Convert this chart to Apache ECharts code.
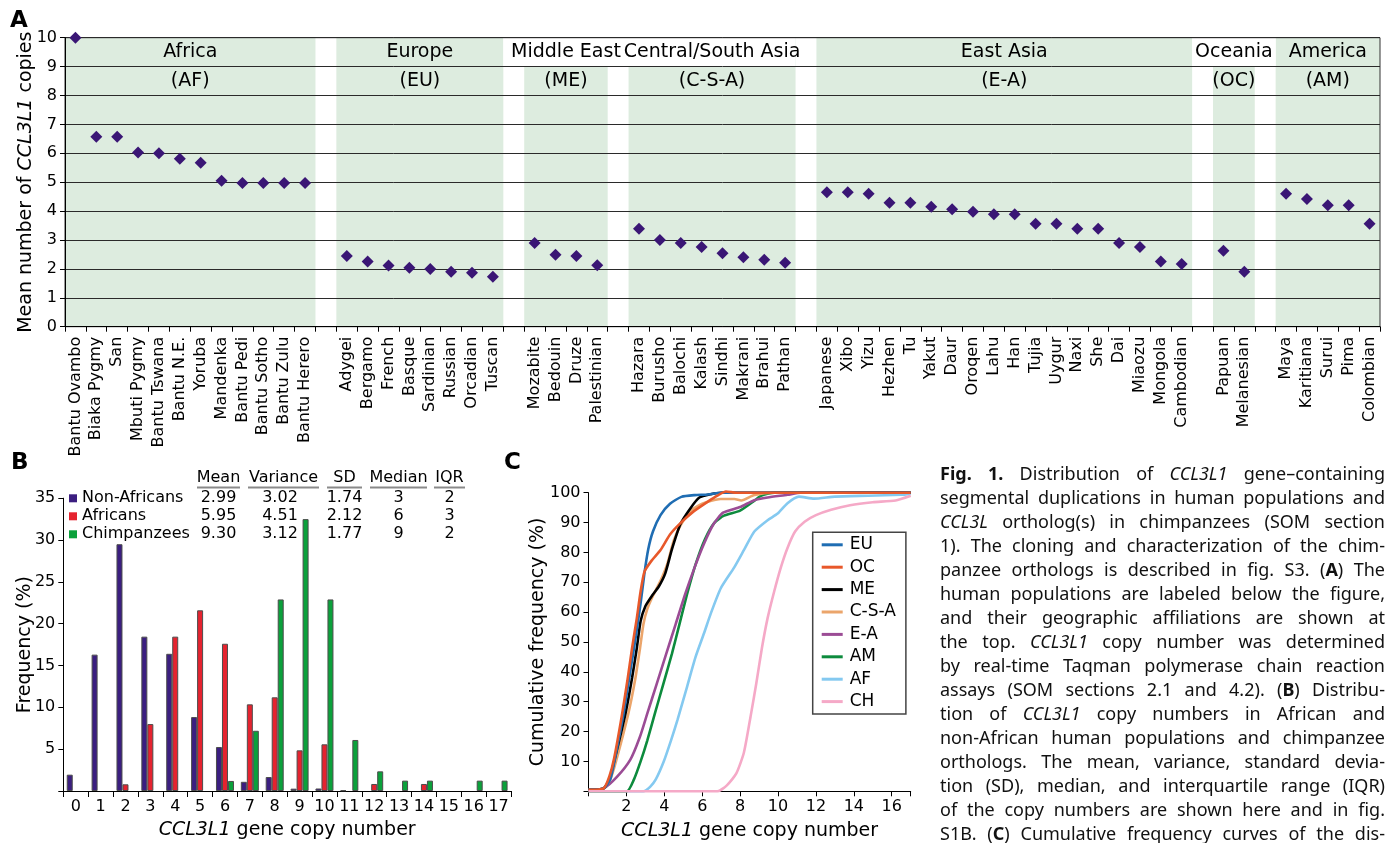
<!DOCTYPE html>
<html><head><meta charset="utf-8">
<script src="https://cdn.jsdelivr.net/npm/echarts@6/dist/echarts.min.js"></script>
<style>
html,body{margin:0;padding:0;background:#fff;}
#chart{position:absolute;left:0;top:0;width:1385px;height:843px;}
#caption{position:absolute;left:940px;top:461px;width:445px;font-family:'Noto Sans',sans-serif;font-size:18px;line-height:24px;color:#111;}
#caption div{text-align:justify;text-align-last:justify;}
</style></head><body>
<div id="chart"></div>
<div id="caption">
<div><b>Fig. 1.</b> Distribution of <i>CCL3L1</i> gene–containing</div>
<div>segmental duplications in human populations and</div>
<div><i>CCL3L</i> ortholog(s) in chimpanzees (SOM section</div>
<div>1). The cloning and characterization of the chim-</div>
<div>panzee orthologs is described in fig. S3. (<b>A</b>) The</div>
<div>human populations are labeled below the figure,</div>
<div>and their geographic affiliations are shown at</div>
<div>the top. <i>CCL3L1</i> copy number was determined</div>
<div>by real-time Taqman polymerase chain reaction</div>
<div>assays (SOM sections 2.1 and 4.2). (<b>B</b>) Distribu-</div>
<div>tion of <i>CCL3L1</i> copy numbers in African and</div>
<div>non-African human populations and chimpanzee</div>
<div>orthologs. The mean, variance, standard devia-</div>
<div>tion (SD), median, and interquartile range (IQR)</div>
<div>of the copy numbers are shown here and in fig.</div>
<div>S1B. (<b>C</b>) Cumulative frequency curves of the dis-</div>
</div>
<script>
// ---------- Panel A data ----------
const regionNames = ['Africa','Europe','Middle East','Central/South Asia','East Asia','Oceania','America'];
const regionCodes = ['(AF)','(EU)','(ME)','(C-S-A)','(E-A)','(OC)','(AM)'];
const popAF = ['Bantu Ovambo','Biaka Pygmy','San','Mbuti Pygmy','Bantu Tswana','Bantu N.E.','Yoruba','Mandenka','Bantu Pedi','Bantu Sotho','Bantu Zulu','Bantu Herero'];
const valAF = [10.0,6.57,6.57,6.03,6.0,5.81,5.67,5.05,4.97,4.97,4.97,4.97];
const popEU = ['Adygei','Bergamo','French','Basque','Sardinian','Russian','Orcadian','Tuscan'];
const valEU = [2.45,2.26,2.12,2.04,2.0,1.9,1.87,1.73];
const popME = ['Mozabite','Bedouin','Druze','Palestinian'];
const valME = [2.9,2.49,2.45,2.13];
const popCSA = ['Hazara','Burusho','Balochi','Kalash','Sindhi','Makrani','Brahui','Pathan'];
const valCSA = [3.39,3.0,2.9,2.76,2.54,2.4,2.32,2.21];
const popEA = ['Japanese','Xibo','Yizu','Hezhen','Tu','Yakut','Daur','Oroqen','Lahu','Han','Tujia','Uygur','Naxi','She','Dai','Miaozu','Mongola','Cambodian'];
const valEA = [4.65,4.65,4.6,4.29,4.29,4.15,4.06,3.98,3.89,3.89,3.56,3.56,3.39,3.39,2.9,2.76,2.26,2.17];
const popOC = ['Papuan','Melanesian'];
const valOC = [2.63,1.9];
const popAM = ['Maya','Karitiana','Surui','Pima','Colombian'];
const valAM = [4.6,4.42,4.2,4.2,3.56];
const aTicksY = [0,1,2,3,4,5,6,7,8,9,10];

// ---------- Panel B data ----------
const bCopies = ['0','1','2','3','4','5','6','7','8','9','10','11','12','13','14','15','16','17'];
const bNonAfricans = [1.95,16.3,29.5,18.45,16.4,8.84,5.26,1.1,1.67,0.28,0.3,0.08,null,null,null,null,null,null];
const bAfricans    = [null,null,0.8,8.0,18.45,21.6,17.6,10.36,11.2,4.86,5.58,null,0.84,null,0.84,null,null,null];
const bChimps      = [null,null,null,null,null,null,1.2,7.2,22.9,32.5,22.9,6.1,2.35,1.24,1.24,null,1.24,1.24];
const bStatHeaders = ['Mean','Variance','SD','Median','IQR'];
const statNonAfricans = ['2.99','3.02','1.74','3','2'];
const statAfricans    = ['5.95','4.51','2.12','6','3'];
const statChimps      = ['9.30','3.12','1.77','9','2'];

// ---------- Panel C data ----------
const curveEU  = [[0,0.5],[0.8,1],[1.15,4],[1.4,11],[1.85,26],[2.2,40],[2.5,52],[2.75,63],[2.95,73],[3.15,81],[3.4,87],[3.8,92.5],[4.3,96.3],[4.9,98.6],[5.6,99.2],[6.3,99.4],[7,100],[17,100]];
const curveOC  = [[0,0.5],[0.8,1],[1.1,5],[1.35,11],[1.75,25],[2.05,37],[2.3,48],[2.55,58],[2.75,67],[2.95,73.5],[3.3,77],[3.8,80.8],[4.3,86],[4.85,89.8],[5.5,93.5],[6.3,97],[6.8,99],[7.25,100.4],[7.8,100],[17,100]];
const curveME  = [[0,0.5],[0.8,1],[1.1,4],[1.35,10],[1.95,26],[2.3,38],[2.55,48],[2.75,57],[3.0,62],[3.35,65.5],[3.7,68.5],[4.05,73],[4.4,81],[4.85,89.5],[5.4,95],[5.85,98.4],[6.45,99.5],[7,100],[17,100]];
const curveCSA = [[0,0.5],[0.8,1],[1.15,4],[1.45,10],[2.1,26],[2.45,37],[2.72,48],[2.9,56],[3.1,61],[3.4,65.5],[3.8,70.5],[4.15,76],[4.5,84],[4.85,89],[5.4,94],[6.0,96.3],[6.97,97.9],[7.7,97.9],[8.06,97.4],[8.75,99.2],[9.8,100],[17,100]];
const curveEA  = [[0,0.5],[0.8,1],[1.5,4.8],[2.2,10.5],[2.7,18],[3.1,26],[3.6,36],[4.1,46],[4.6,56],[5.1,66],[5.6,75],[6.1,83],[6.6,89.5],[7.1,93.3],[8.0,95.2],[8.75,97.5],[9.45,98.4],[10.5,99.3],[11.2,100],[17,100]];
const curveAM  = [[0,0],[2.02,0],[2.4,4],[2.75,10],[3.1,17],[3.5,26],[3.95,36],[4.4,46],[4.8,56],[5.2,66],[5.65,76],[6.15,84.5],[6.65,90],[7.15,92.3],[8.0,94],[8.75,97.3],[9.1,99],[9.8,100],[17,100]];
const curveAF  = [[0,0],[2.9,0],[3.25,1.5],[3.55,4],[3.97,10],[4.35,17],[4.7,24],[5.2,35],[5.65,45],[6.1,53],[6.45,59.5],[6.98,68],[7.69,75],[8.22,81],[8.75,87],[9.45,90.8],[9.98,93],[10.5,96.5],[11.1,98.7],[11.9,98],[13.0,98.7],[14.75,99],[16.5,99.3],[17,99.6]];
const curveCH  = [[0,0],[6.8,0],[7.3,2],[7.8,6],[8.2,13],[8.55,25],[8.85,36],[9.15,48],[9.45,58],[9.8,67],[10.15,75],[10.5,81.5],[10.9,87],[11.4,90.3],[12.0,92.5],[12.8,94.3],[13.8,95.8],[15.0,96.8],[16.2,97.4],[17,99]];
const curveNames = ['EU','OC','ME','C-S-A','E-A','AM','AF','CH'];

// ---------- build panel A categories ----------
const FONT = '"DejaVu Sans", Verdana, sans-serif';
const groups = [[popAF,valAF],[popEU,valEU],[popME,valME],[popCSA,valCSA],[popEA,valEA],[popOC,valOC],[popAM,valAM]];
const cats = [], catVals = [], bands = [];
let idx = 0;
groups.forEach((g,i) => {
  if (i > 0) { cats.push('gap' + i); catVals.push(null); idx++; }
  bands.push([idx, idx + g[0].length]);
  g[0].forEach((p,j) => { cats.push(p); catVals.push(g[1][j]); idx++; });
});
const nCats = cats.length;
const bandData = bands.map(b => [b[0], b[1], 0, 10, 0]);
bandData.push([bands[1][1], bands[3][1], 9, 10, 1]);
bandData.push([bands[4][1], bands[6][0], 9, 10, 1]);
const headerData = [];
regionNames.forEach((n,i) => {
  const c = (bands[i][0] + bands[i][1]) / 2;
  headerData.push({value:[c, 9.5], name:n});
  headerData.push({value:[c, 8.5], name:regionCodes[i]});
});

// ---------- panel B table graphics ----------
const colX = [218.5, 280, 344.5, 398.5, 449.5];
const ulX = [[197,240],[248,319],[327,362],[370,427],[434,465]];
const rowY = [498.3, 516.3, 534.3];
const gfx = [
  {type:'text', x:10, y:10, style:{text:'A', font:'bold 23px ' + FONT, fill:'#000'}},
  {type:'text', x:11, y:452, style:{text:'B', font:'bold 23px ' + FONT, fill:'#000'}},
  {type:'text', x:504, y:452, style:{text:'C', font:'bold 23px ' + FONT, fill:'#000'}}
];
bStatHeaders.forEach((h,i) => {
  gfx.push({type:'text', x:(ulX[i][0]+ulX[i][1])/2, y:477.5, style:{text:h, font:'16px ' + FONT, fill:'#000', align:'center', verticalAlign:'middle'}});
  gfx.push({type:'line', shape:{x1:ulX[i][0], y1:487.5, x2:ulX[i][1], y2:487.5}, style:{stroke:'#8a8a8a', lineWidth:2}});
});
[statNonAfricans, statAfricans, statChimps].forEach((row,r) => {
  row.forEach((v,i) => {
    gfx.push({type:'text', x:colX[i], y:rowY[r], style:{text:v, font:'16px ' + FONT, fill:'#000', align:'center', verticalAlign:'middle'}});
  });
});

const axisBlack = {lineStyle:{color:'#000', width:1}};
const curveColors = {'EU':'#1f6db3','OC':'#e8582a','ME':'#000000','C-S-A':'#eba56b','E-A':'#9b4c95','AM':'#0d8b3d','AF':'#84c9f0','CH':'#f5a9c7'};
const curveData = {'EU':curveEU,'OC':curveOC,'ME':curveME,'C-S-A':curveCSA,'E-A':curveEA,'AM':curveAM,'AF':curveAF,'CH':curveCH};
const drawOrder = ['AF','AM','E-A','C-S-A','ME','EU','OC','CH'];

const chart = echarts.init(document.getElementById('chart'), null, {renderer:'canvas'});
const option = {
  animation:false,
  textStyle:{fontFamily:FONT},
  graphic:gfx,
  grid:[
    {left:65, top:37.7, width:1315, height:289, show:true, borderColor:'#333', borderWidth:1, backgroundColor:'transparent', containLabel:false},
    {left:63.3, top:498.2, width:447.7, height:292.8, containLabel:false},
    {left:588.5, top:492.7, width:322.2, height:298.6, containLabel:false}
  ],
  xAxis:[
    {gridIndex:0, type:'category', data:cats, boundaryGap:true,
     axisLine:axisBlack, axisTick:{show:true, interval:0, length:5, lineStyle:{color:'#000'}},
     axisLabel:{interval:0, rotate:90, fontSize:16, color:'#000', margin:10, fontFamily:FONT,
       formatter:v => v.indexOf('gap') === 0 ? '' : v}},
    {gridIndex:0, type:'value', min:0, max:nCats, show:false},
    {gridIndex:1, type:'category', data:bCopies, boundaryGap:true,
     axisLine:axisBlack, axisTick:{show:true, interval:0, length:6, lineStyle:{color:'#000'}},
     axisLabel:{interval:0, fontSize:16, color:'#000', margin:8, fontFamily:FONT},
     name:'{i|CCL3L1}{n| gene copy number}', nameLocation:'middle', nameGap:30,
     nameTextStyle:{rich:{i:{fontSize:19, fontStyle:'italic', fontFamily:FONT, color:'#000'}, n:{fontSize:19, fontFamily:FONT, color:'#000'}}}},
    {gridIndex:2, type:'value', min:0, max:17, interval:2,
     axisLine:axisBlack, axisTick:{show:true, length:5, lineStyle:{color:'#000'}}, splitLine:{show:false},
     axisLabel:{fontSize:16, color:'#000', margin:8, fontFamily:FONT, formatter:v => (v > 0 && v % 2 === 0) ? String(v) : ''},
     name:'{i|CCL3L1}{n| gene copy number}', nameLocation:'middle', nameGap:30,
     nameTextStyle:{rich:{i:{fontSize:19, fontStyle:'italic', fontFamily:FONT, color:'#000'}, n:{fontSize:19, fontFamily:FONT, color:'#000'}}}}
  ],
  yAxis:[
    {gridIndex:0, type:'value', min:aTicksY[0], max:aTicksY[aTicksY.length-1], interval:1,
     axisLine:{show:true, lineStyle:{color:'#000'}}, axisTick:{show:true, length:5, lineStyle:{color:'#000'}},
     splitLine:{show:true, lineStyle:{color:'#2a2a2a', width:1}},
     axisLabel:{fontSize:16, color:'#000', margin:8, fontFamily:FONT},
     name:'{n|Mean number of }{i|CCL3L1}{n| copies}', nameLocation:'middle', nameGap:29, nameMoveOverlap:false,
     nameTextStyle:{rich:{i:{fontSize:19, fontStyle:'italic', fontFamily:FONT, color:'#000'}, n:{fontSize:19, fontFamily:FONT, color:'#000'}}}},
    {gridIndex:1, type:'value', min:0, max:35, interval:5,
     axisLine:{show:true, lineStyle:{color:'#000'}}, axisTick:{show:true, length:5, lineStyle:{color:'#000'}},
     splitLine:{show:false},
     axisLabel:{fontSize:16, color:'#000', margin:8, fontFamily:FONT, formatter:v => v === 0 ? '' : String(v)},
     name:'Frequency (%)', nameLocation:'middle', nameGap:29, nameMoveOverlap:false,
     nameTextStyle:{fontSize:19, fontFamily:FONT, color:'#000'}},
    {gridIndex:2, type:'value', min:0, max:100, interval:10,
     axisLine:{show:true, lineStyle:{color:'#000'}}, axisTick:{show:true, length:5, lineStyle:{color:'#000'}},
     splitLine:{show:false},
     axisLabel:{fontSize:16, color:'#000', margin:8, fontFamily:FONT, formatter:v => v === 0 ? '' : String(v)},
     name:'Cumulative frequency (%)', nameLocation:'middle', nameGap:41, nameMoveOverlap:false,
     nameTextStyle:{fontSize:19, fontFamily:FONT, color:'#000'}}
  ],
  legend:[
    {data:['Non-Africans','Africans','Chimpanzees'], orient:'vertical', left:69, top:490.3, padding:0,
     itemWidth:8, itemHeight:8, itemGap:2, icon:'rect', selectedMode:false,
     itemStyle:{borderWidth:0},
     textStyle:{fontSize:16, lineHeight:16, fontFamily:FONT, color:'#000'}},
    {data:curveNames, orient:'vertical', left:812.7, top:532.3, padding:[4,10,4,9],
     itemWidth:21, itemHeight:3, itemGap:5.4, icon:'rect', selectedMode:false,
     backgroundColor:'#fff', borderColor:'#444', borderWidth:1.5,
     textStyle:{fontSize:17, lineHeight:17, fontFamily:FONT, color:'#000', padding:[0,0,0,2]}}
  ],
  series:[
    {type:'custom', xAxisIndex:1, yAxisIndex:0, z:-1, silent:true, data:bandData,
     renderItem:(params, api) => {
       const p0 = api.coord([api.value(0), api.value(3)]);
       const p1 = api.coord([api.value(1), api.value(2)]);
       return {type:'rect', shape:{x:p0[0], y:p0[1], width:p1[0]-p0[0], height:p1[1]-p0[1]},
               style:{fill: api.value(4) ? '#ffffff' : '#ddecdf'}};
     }},
    {type:'scatter', xAxisIndex:1, yAxisIndex:0, data:headerData, symbolSize:1, silent:true,
     itemStyle:{color:'#ddecdf', opacity:1}, z:3,
     label:{show:true, position:'inside', formatter:'{b}', fontSize:19, color:'#000', opacity:1, fontFamily:FONT}},
    {type:'scatter', name:'Populations', xAxisIndex:0, yAxisIndex:0, data:catVals, symbol:'diamond', symbolSize:12,
     itemStyle:{color:'#3a1675', opacity:1}, z:4},
    {type:'bar', name:'Non-Africans', xAxisIndex:2, yAxisIndex:1, data:bNonAfricans, barWidth:6, barGap:'0%',
     itemStyle:{color:'#3b1e80', borderColor:'#4d4d4d', borderWidth:1}},
    {type:'bar', name:'Africans', xAxisIndex:2, yAxisIndex:1, data:bAfricans, barWidth:6, barGap:'0%',
     itemStyle:{color:'#e5232f', borderColor:'#4d4d4d', borderWidth:1}},
    {type:'bar', name:'Chimpanzees', xAxisIndex:2, yAxisIndex:1, data:bChimps, barWidth:6, barGap:'0%',
     itemStyle:{color:'#0ba13b', borderColor:'#4d4d4d', borderWidth:1}}
  ].concat(drawOrder.map(n => ({
     type:'line', name:n, xAxisIndex:3, yAxisIndex:2, data:curveData[n], showSymbol:false, symbol:'none',
     smooth:0.2, clip:false,
     itemStyle:{color:curveColors[n]}, lineStyle:{color:curveColors[n], width:2.6}
  })))
};
chart.setOption(option);
</script>
</body></html>
